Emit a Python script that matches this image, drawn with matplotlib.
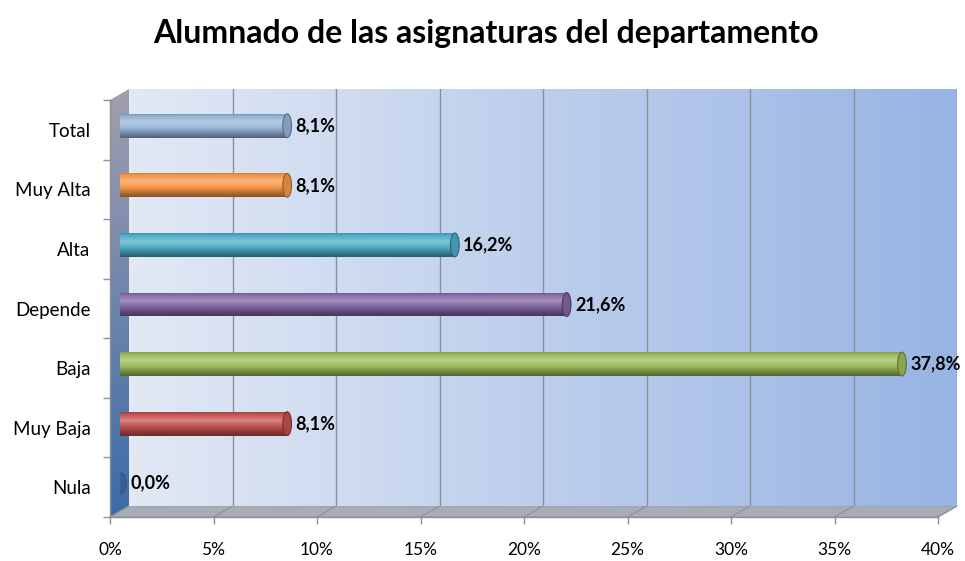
import numpy as np
import matplotlib
matplotlib.use("Agg")
import matplotlib.pyplot as plt
from matplotlib.patches import Rectangle, Ellipse, Polygon
from matplotlib.colors import to_rgb
from matplotlib.ticker import FuncFormatter

# ---------------- data ----------------
categories = ["Total", "Muy Alta", "Alta", "Depende", "Baja", "Muy Baja", "Nula"]
values = [8.1, 8.1, 16.2, 21.6, 37.8, 8.1, 0.0]
colors = ["#95B3D7", "#F79646", "#4BACC6", "#8064A2", "#9BBB59", "#C0504D", "#4F81BD"]
xticks = [0, 5, 10, 15, 20, 25, 30, 35, 40]
title = "Alumnado de las asignaturas del departamento"

plt.rcParams['font.family'] = ['Lato', 'DejaVu Sans']

W, H = 965, 561
fig = plt.figure(figsize=(W / 100, H / 100), dpi=100)
fig.patch.set_facecolor("white")


def rect(x0, y0, x1, y1):
    return [x0 / W, 1 - y1 / H, (x1 - x0) / W, (y1 - y0) / H]


# geometry (pixels)
FX0, FX1 = 110, 938       # front axis 0..40
FY0, FY1 = 100, 517       # front category band
DX, DY = 19, -11          # depth offset
XMAX = 40

# ---------------- background decoration axes (pixel coords) ----------------
bg = fig.add_axes([0, 0, 1, 1], zorder=0)
bg.set_xlim(0, W)
bg.set_ylim(H, 0)
bg.axis("off")

# left side wall gradient (top gray-violet to bottom blue)
side = Polygon([(FX0, FY0), (FX0 + DX, FY0 + DY), (FX0 + DX, FY1 + DY), (FX0, FY1)],
               closed=True, facecolor="none", edgecolor="none")
bg.add_patch(side)
grad = np.linspace(0, 1, 256)[:, None]
top_c = np.array(to_rgb("#a29fae"))
bot_c = np.array(to_rgb("#3a6ba8"))
img = top_c[None, None, :] * (1 - grad[..., None]) + bot_c[None, None, :] * grad[..., None]
im = bg.imshow(img, extent=(FX0, FX0 + DX, FY1, FY0 + DY), aspect="auto", origin="upper", zorder=1)
im.set_clip_path(side)

# floor
floor = Polygon([(FX0, FY1), (FX1, FY1), (FX1 + DX, FY1 + DY), (FX0 + DX, FY1 + DY)],
                closed=True, facecolor="#a7acb6", edgecolor="#9a9ea8", lw=0.8, zorder=2)
bg.add_patch(floor)
pxper = (FX1 - FX0) / XMAX
for t in xticks:
    fx = FX0 + t * pxper
    bg.plot([fx, fx + DX], [FY1, FY1 + DY], color="#8a8f99", lw=0.8, zorder=3)

# ---------------- back wall axes ----------------
wall = fig.add_axes(rect(FX0 + DX, FY0 + DY, FX1 + DX, FY1 + DY), zorder=1)
wall.set_xlim(0, XMAX)
wall.set_ylim(0, 1)
g = np.linspace(0, 1, 256)[None, :]
lc = np.array(to_rgb("#e2e9f5"))
rc = np.array(to_rgb("#98b4e3"))
wimg = lc[None, None, :] * (1 - g[..., None]) + rc[None, None, :] * g[..., None]
wall.imshow(wimg, extent=(0, XMAX, 0, 1), aspect="auto", origin="upper")
for t in xticks[1:]:
    wall.axvline(t, color="#8c8f96", lw=1.0)
for s in wall.spines.values():
    s.set_visible(False)
wall.set_xticks([])
wall.set_yticks([])

# ---------------- front tick axes ----------------
ax = fig.add_axes(rect(FX0, FY0, FX1, FY1), zorder=2)
ax.patch.set_alpha(0)
ax.set_xlim(0, XMAX)
ax.set_ylim(len(categories) - 0.5, -0.5)
ax.set_xticks(xticks)
ax.xaxis.set_major_formatter(FuncFormatter(lambda v, p: f"{v:.0f}%"))
ax.set_yticks(range(len(categories)))
ax.set_yticklabels(categories)
ax.set_yticks(np.arange(-0.5, len(categories), 1.0), minor=True)
ax.tick_params(axis="y", which="major", length=0, pad=14, labelsize=13.5)
ax.tick_params(axis="y", which="minor", length=5, color="#8c8f96", width=1)
ax.tick_params(axis="x", length=5, color="#8c8f96", width=1, pad=13, labelsize=12.5)
for k in ["top", "right"]:
    ax.spines[k].set_visible(False)
for k in ["left", "bottom"]:
    ax.spines[k].set_color("#8c8f96")
    ax.spines[k].set_linewidth(1)

# ---------------- bars (mid depth) ----------------
bx = fig.add_axes(rect(FX0 + DX / 2, FY0 + DY / 2 + 1.5, FX1 + DX / 2, FY1 + DY / 2 + 1.5), zorder=3)
bx.patch.set_alpha(0)
bx.axis("off")
bx.set_xlim(0, XMAX)
bx.set_ylim(len(categories) - 0.5, -0.5)

bh = 0.4
capw = 0.42
ys = np.arange(len(categories))
bars = bx.barh(ys, values, height=bh, color="none", edgecolor="none")


def shade(c, f):
    c = np.array(to_rgb(c))
    if f >= 0:
        return c + (1 - c) * f
    return c * (1 + f)


for i, (b, v, c) in enumerate(zip(bars, values, colors)):
    stops = np.linspace(0, 1, 64)
    prof = np.interp(stops, [0, 0.12, 0.35, 0.6, 0.85, 1.0], [-0.15, 0.05, 0.3, 0.0, -0.3, -0.45])
    col = np.array([shade(c, f) for f in prof])[:, None, :]
    if v > 0:
        # left rounded end
        bx.add_patch(Ellipse((0, i), capw, bh, facecolor=shade(c, -0.2), edgecolor="none", zorder=2))
        gim = bx.imshow(col, extent=(0, v, i + bh / 2, i - bh / 2), aspect="auto",
                        origin="upper", zorder=3)
        gim.set_clip_path(b)
        bx.add_patch(Ellipse((v, i), capw, bh, facecolor=shade(c, -0.12),
                             edgecolor=shade(c, -0.4), lw=0.8, zorder=4))
    else:
        bx.add_patch(Ellipse((v + 0.1, i), capw, bh * 0.85, facecolor="#3d5f8f",
                             edgecolor="#34527c", lw=0.8, zorder=4))
    lab = f"{v:.1f}".replace(".", ",") + "%"
    bx.annotate(lab, (v, i), xytext=(6 if v > 0 else 8, 0), textcoords="offset points",
                ha="left", va="center", fontsize=13, fontweight="bold", color="black", zorder=5)

fig.text(486 / W, 1 - 33 / H, title, ha="center", va="center", fontsize=23, fontweight="bold")

fig.savefig("out.png", dpi=100)
